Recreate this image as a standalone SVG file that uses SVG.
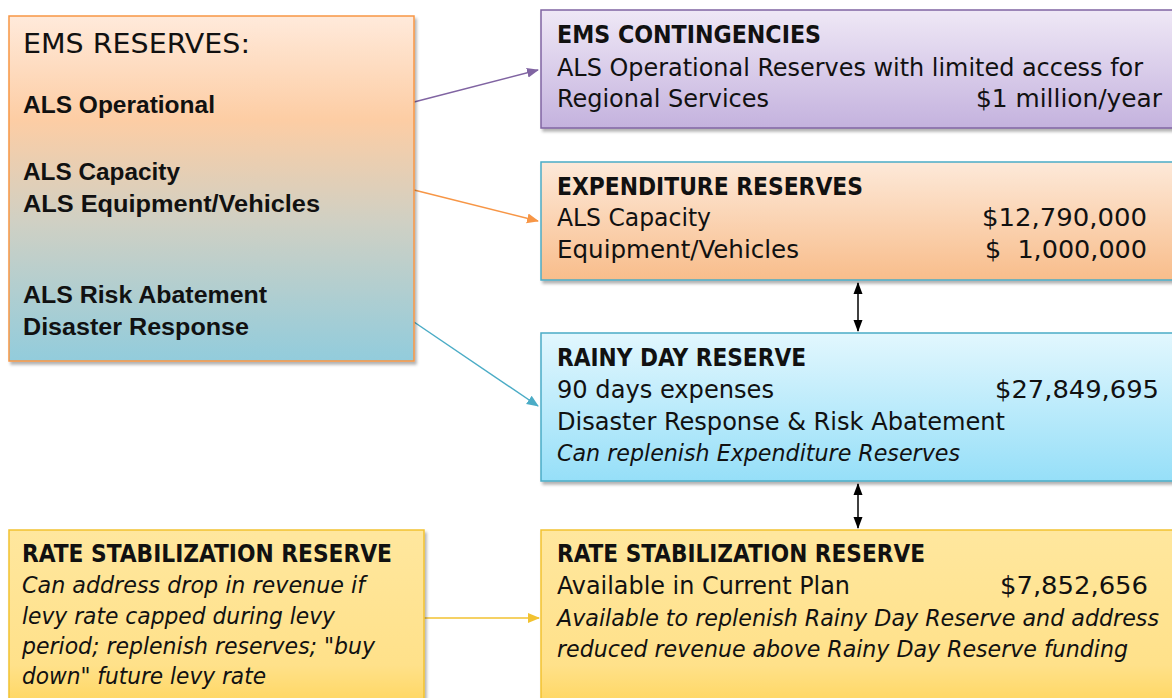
<svg xmlns="http://www.w3.org/2000/svg" width="1172" height="698" viewBox="0 0 1172 698">
<defs>
<linearGradient id="gLeft" x1="0" y1="0" x2="0" y2="1">
<stop offset="0" stop-color="#FFEADB"/><stop offset="0.3" stop-color="#FDCDA4"/><stop offset="0.6" stop-color="#CFD0C4"/><stop offset="1" stop-color="#92CCDC"/>
</linearGradient>
<linearGradient id="gPurple" x1="0" y1="0" x2="0" y2="1"><stop offset="0" stop-color="#EFE8F6"/><stop offset="1" stop-color="#C4B2DE"/></linearGradient>
<linearGradient id="gOrange" x1="0" y1="0" x2="0" y2="1"><stop offset="0" stop-color="#FDE9D9"/><stop offset="1" stop-color="#F8BD8B"/></linearGradient>
<linearGradient id="gBlue" x1="0" y1="0" x2="0" y2="1"><stop offset="0" stop-color="#E2F7FE"/><stop offset="1" stop-color="#96DFF8"/></linearGradient>
<linearGradient id="gGold" x1="0" y1="0" x2="0" y2="1"><stop offset="0" stop-color="#FFE79E"/><stop offset="0.75" stop-color="#FFE18A"/><stop offset="1" stop-color="#FFD55A"/></linearGradient>
<filter id="sh" x="-5%" y="-5%" width="115%" height="120%"><feDropShadow dx="2" dy="3" stdDeviation="1.5" flood-color="#000" flood-opacity="0.3"/></filter>
<marker id="aPurple" markerWidth="12" markerHeight="12" refX="11" refY="6" orient="auto" markerUnits="userSpaceOnUse"><path d="M0,1 L12,6 L0,11 z" fill="#8064A2"/></marker>
<marker id="aOrange" markerWidth="12" markerHeight="12" refX="11" refY="6" orient="auto" markerUnits="userSpaceOnUse"><path d="M0,1 L12,6 L0,11 z" fill="#F79646"/></marker>
<marker id="aBlue" markerWidth="12" markerHeight="12" refX="11" refY="6" orient="auto" markerUnits="userSpaceOnUse"><path d="M0,1 L12,6 L0,11 z" fill="#4BACC6"/></marker>
<marker id="aGold" markerWidth="12" markerHeight="12" refX="11" refY="6" orient="auto" markerUnits="userSpaceOnUse"><path d="M0,1 L12,6 L0,11 z" fill="#F2C230"/></marker>
<marker id="aBlack" markerWidth="12" markerHeight="12" refX="11" refY="6" orient="auto-start-reverse" markerUnits="userSpaceOnUse"><path d="M0,1.5 L12,6 L0,10.5 z" fill="#000"/></marker>
</defs>
<style>
text{font-family:"Liberation Sans Narrow","DejaVu Sans Condensed","Liberation Sans",sans-serif;fill:#111;}
.t{font-size:24px;}
.h{font-size:24px;font-weight:bold;}
.lb{font-size:23px;font-weight:bold;font-family:"Liberation Sans","DejaVu Sans",sans-serif;}
.it{font-size:23px;font-style:italic;}
.r{text-anchor:end;}
</style>
<rect width="1172" height="698" fill="#fff"/>
<g id="connectors" fill="none" stroke-width="1.5">
<line x1="414" y1="102" x2="538" y2="70" stroke="#8064A2" marker-end="url(#aPurple)"/>
<line x1="414" y1="190" x2="538" y2="221" stroke="#F79646" marker-end="url(#aOrange)"/>
<line x1="414" y1="322" x2="538" y2="406" stroke="#4BACC6" marker-end="url(#aBlue)"/>
<line x1="424" y1="618" x2="539" y2="618" stroke="#F2C230" marker-end="url(#aGold)"/>
<line x1="858" y1="283" x2="858" y2="331" stroke="#000" marker-start="url(#aBlack)" marker-end="url(#aBlack)"/>
<line x1="858" y1="484" x2="858" y2="528" stroke="#000" marker-start="url(#aBlack)" marker-end="url(#aBlack)"/>
</g>
<g id="ems-reserves">
<rect x="9" y="16" width="405" height="345" fill="url(#gLeft)" stroke="#F79646" stroke-width="1.5" filter="url(#sh)"/>
<text x="23" y="53" font-size="27" font-family="Liberation Sans, sans-serif" textLength="227" lengthAdjust="spacingAndGlyphs">EMS RESERVES:</text>
<text class="lb" x="23" y="113" textLength="192" lengthAdjust="spacingAndGlyphs">ALS Operational</text>
<text class="lb" x="23" y="180" textLength="157" lengthAdjust="spacingAndGlyphs">ALS Capacity</text>
<text class="lb" x="23" y="212" textLength="297" lengthAdjust="spacingAndGlyphs">ALS Equipment/Vehicles</text>
<text class="lb" x="23" y="303" textLength="244" lengthAdjust="spacingAndGlyphs">ALS Risk Abatement</text>
<text class="lb" x="23" y="335" textLength="226" lengthAdjust="spacingAndGlyphs">Disaster Response</text>
</g>
<g id="ems-contingencies">
<rect x="541" y="10" width="640" height="118" fill="url(#gPurple)" stroke="#8064A2" stroke-width="1.5" filter="url(#sh)"/>
<text class="h" x="557" y="43" textLength="264" lengthAdjust="spacingAndGlyphs">EMS CONTINGENCIES</text>
<text class="t" x="557" y="76" textLength="586" lengthAdjust="spacingAndGlyphs">ALS Operational Reserves with limited access for</text>
<text class="t" x="557" y="107" textLength="212" lengthAdjust="spacingAndGlyphs">Regional Services</text>
<text class="t r" x="1162" y="107" textLength="186" lengthAdjust="spacingAndGlyphs">$1 million/year</text>
</g>
<g id="expenditure-reserves">
<rect x="541" y="162" width="640" height="118" fill="url(#gOrange)" stroke="#4BACC6" stroke-width="1.5" filter="url(#sh)"/>
<text class="h" x="557" y="195" textLength="306" lengthAdjust="spacingAndGlyphs">EXPENDITURE RESERVES</text>
<text class="t" x="557" y="226" textLength="154" lengthAdjust="spacingAndGlyphs">ALS Capacity</text>
<text class="t r" x="1147" y="226" textLength="165" lengthAdjust="spacingAndGlyphs">$12,790,000</text>
<text class="t" x="557" y="258" textLength="242" lengthAdjust="spacingAndGlyphs">Equipment/Vehicles</text>
<text class="t r" x="1147" y="258" textLength="162" lengthAdjust="spacingAndGlyphs" xml:space="preserve">$  1,000,000</text>
</g>
<g id="rainy-day-reserve">
<rect x="541" y="333" width="640" height="148" fill="url(#gBlue)" stroke="#4BACC6" stroke-width="1.5" filter="url(#sh)"/>
<text class="h" x="557" y="366" textLength="249" lengthAdjust="spacingAndGlyphs">RAINY DAY RESERVE</text>
<text class="t" x="557" y="398" textLength="217" lengthAdjust="spacingAndGlyphs">90 days expenses</text>
<text class="t r" x="1159" y="398" textLength="164" lengthAdjust="spacingAndGlyphs">$27,849,695</text>
<text class="t" x="557" y="430" textLength="448" lengthAdjust="spacingAndGlyphs">Disaster Response &amp; Risk Abatement</text>
<text class="it" x="557" y="461" textLength="403" lengthAdjust="spacingAndGlyphs">Can replenish Expenditure Reserves</text>
</g>
<g id="rate-stabilization-right">
<rect x="541" y="530" width="640" height="180" fill="url(#gGold)" stroke="#F2C230" stroke-width="1.5" filter="url(#sh)"/>
<text class="h" x="557" y="562" textLength="368" lengthAdjust="spacingAndGlyphs">RATE STABILIZATION RESERVE</text>
<text class="t" x="557" y="594" textLength="293" lengthAdjust="spacingAndGlyphs">Available in Current Plan</text>
<text class="t r" x="1148" y="594" textLength="148" lengthAdjust="spacingAndGlyphs">$7,852,656</text>
<text class="it" x="557" y="626" textLength="602" lengthAdjust="spacingAndGlyphs">Available to replenish Rainy Day Reserve and address</text>
<text class="it" x="557" y="657" textLength="571" lengthAdjust="spacingAndGlyphs">reduced revenue above Rainy Day Reserve funding</text>
</g>
<g id="rate-stabilization-left">
<rect x="9" y="530" width="415" height="180" fill="url(#gGold)" stroke="#F2C230" stroke-width="1.5" filter="url(#sh)"/>
<text class="h" x="22" y="562" textLength="370" lengthAdjust="spacingAndGlyphs">RATE STABILIZATION RESERVE</text>
<text class="it" x="22" y="593" textLength="343" lengthAdjust="spacingAndGlyphs">Can address drop in revenue if</text>
<text class="it" x="22" y="624" textLength="313" lengthAdjust="spacingAndGlyphs">levy rate capped during levy</text>
<text class="it" x="22" y="654" textLength="353" lengthAdjust="spacingAndGlyphs">period; replenish reserves; "buy</text>
<text class="it" x="22" y="684" textLength="244" lengthAdjust="spacingAndGlyphs">down" future levy rate</text>
</g>
</svg>
